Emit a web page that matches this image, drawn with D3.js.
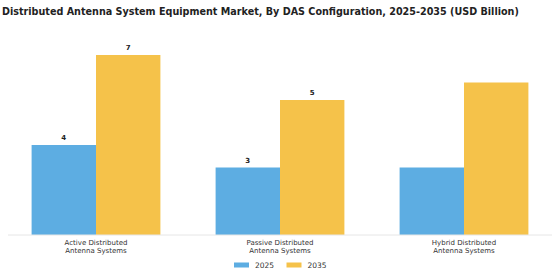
<!DOCTYPE html>
<html>
<head>
<meta charset="utf-8">
<script src="https://cdn.jsdelivr.net/npm/d3@7"></script>
<style>
  body { margin: 0; background: #fff; }
  svg { font-family: "DejaVu Sans", sans-serif; }
</style>
</head>
<body>
<svg id="chart" width="560" height="280"></svg>
<script>
// data
const categories = ["Active Distributed\nAntenna Systems", "Passive Distributed\nAntenna Systems", "Hybrid Distributed\nAntenna Systems"];
const years = ["2025", "2035"];
const values2025 = [3.6, 2.7, 2.7];
const values2035 = [7.2, 5.4, 6.1];
const showLabel = [true, true, false];
const colors = ["#5DADE2", "#F5C24A"];

const svg = d3.select("svg#chart");

const title = svg.append("text")
  .attr("x", 2)
  .attr("y", 15)
  .attr("font-size", 11)
  .attr("font-weight", "bold")
  .attr("fill", "#222")
  .text("Distributed Antenna System Equipment Market, By DAS Configuration, 2025-2035 (USD Billion)");

// shrink title to the width seen in the picture
const tw = title.node().getComputedTextLength();
title.attr("font-size", 11 * 517 / tw);

const x = d3.scaleBand()
  .domain(categories)
  .range([4, 556])
  .paddingInner(0.3)
  .paddingOuter(0.15);

const xSub = d3.scaleBand()
  .domain(years)
  .range([0, x.bandwidth()]);

const y = d3.scaleLinear()
  .domain([0, 8])
  .range([235, 35]);

var rows = [];
categories.forEach((c, i) => {
  rows.push({ cat: c, year: "2025", value: values2025[i], label: showLabel[i] });
  rows.push({ cat: c, year: "2035", value: values2035[i], label: showLabel[i] });
});

const colorScale = d3.scaleOrdinal().domain(years).range(colors);

svg.append("g")
  .selectAll("rect")
  .data(rows)
  .join("rect")
  .attr("x", (d) => x(d.cat) + xSub(d.year))
  .attr("y", (d) => y(d.value))
  .attr("width", xSub.bandwidth())
  .attr("height", (d) => y(0) - y(d.value))
  .attr("fill", (d) => colorScale(d.year));

svg.append("g")
  .selectAll("text")
  .data(rows.filter((d) => d.label))
  .join("text")
  .attr("x", (d) => x(d.cat) + xSub(d.year) + xSub.bandwidth() / 2)
  .attr("y", (d) => y(d.value) - 5)
  .attr("text-anchor", "middle")
  .attr("font-size", 7)
  .attr("font-weight", "bold")
  .attr("fill", "#222")
  .text((d) => Math.round(d.value));

// baseline
svg.append("line")
  .attr("x1", 8).attr("x2", 552)
  .attr("y1", y(0)).attr("y2", y(0))
  .attr("stroke", "#e6e6e6")
  .attr("stroke-width", 1);

// category labels
const labels = svg.append("g")
  .selectAll("text")
  .data(categories)
  .join("text")
  .attr("x", (d) => x(d) + x.bandwidth() / 2)
  .attr("y", 245)
  .attr("text-anchor", "middle")
  .attr("font-size", 7)
  .attr("fill", "#333");

labels.selectAll("tspan")
  .data((d) => d.split("\n"))
  .join("tspan")
  .attr("x", function () { return d3.select(this.parentNode).attr("x"); })
  .attr("dy", (d, i) => (i === 0 ? 0 : 8.4))
  .text((d) => d);

// legend
const legend = svg.append("g")
  .selectAll("g")
  .data(years)
  .join("g")
  .attr("transform", (d, i) => `translate(${234 + i * 52.5}, 265)`);

legend.append("rect")
  .attr("x", 0).attr("y", -2.5)
  .attr("width", 15).attr("height", 5)
  .attr("fill", (d) => colorScale(d));

legend.append("text")
  .attr("x", 21).attr("y", 2.8)
  .attr("font-size", 7.5)
  .attr("fill", "#333")
  .text((d) => d);
</script>
</body>
</html>
